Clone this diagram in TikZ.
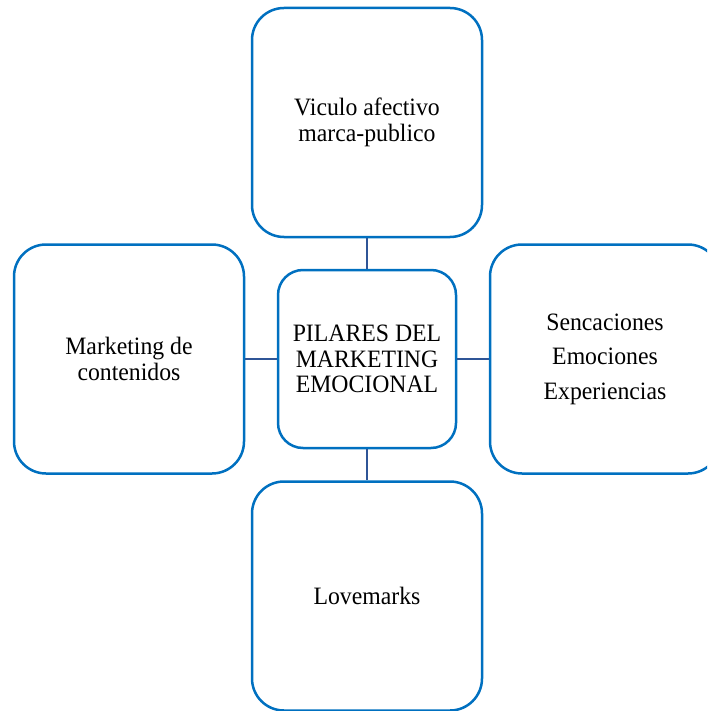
\documentclass[tikz,border=0pt]{standalone}
\usepackage{fontspec}
\setmainfont{Liberation Serif}[FakeStretch=0.95]
\definecolor{boxblue}{HTML}{0070C0}
\definecolor{lineblue}{HTML}{2F5597}
\begin{document}
\begin{tikzpicture}[x=1pt,y=-1pt,
  pilar/.style={draw=boxblue,line width=2.5pt,rounded corners=32pt,
    minimum width=230pt,minimum height=229pt,inner sep=0pt,align=center,
    font=\fontsize{25}{25.5}\selectfont},
  link/.style={draw=lineblue,line width=2pt}]
\useasboundingbox (0,0) rectangle (707,711);
\clip (0,0) rectangle (707,711);
\node[pilar] (vinculo) at (367,122.5) {Viculo afectivo\\marca-publico};
\node[pilar,minimum width=178pt,minimum height=178pt,rounded corners=25pt] (pilares) at (367,359) {PILARES DEL\\MARKETING\\EMOCIONAL};
\node[pilar] (contenidos) at (129,359) {Marketing de\\contenidos};
\node[pilar,font=\fontsize{25}{34.5}\selectfont] (sensaciones) at (605,359) {Sencaciones\\Emociones\\Experiencias};
\node[pilar] (lovemarks) at (367,596) {Lovemarks};
\draw[link] (vinculo) -- (pilares);
\draw[link] (pilares) -- (lovemarks);
\draw[link] (contenidos) -- (pilares);
\draw[link] (pilares) -- (sensaciones);
\end{tikzpicture}
\end{document}
